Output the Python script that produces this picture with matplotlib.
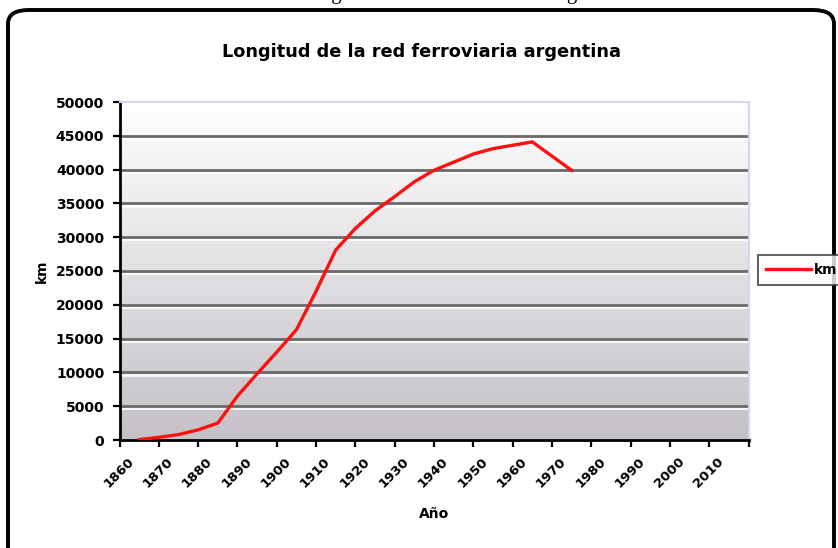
import numpy as np
import matplotlib
matplotlib.use('Agg')
import matplotlib.pyplot as plt
from matplotlib.patches import FancyBboxPatch
from matplotlib.transforms import ScaledTranslation
import matplotlib.patheffects as pe

# longitud de la red (km) cada 5 años
anios = [1865, 1870, 1875, 1880, 1885, 1890, 1895, 1900, 1905, 1910, 1915, 1920,
         1925, 1930, 1935, 1940, 1945, 1950, 1955, 1960, 1965, 1970, 1975]
km = [50, 400, 800, 1500, 2500, 6500, 9800, 13000, 16300, 22000, 28100, 31300,
      33900, 36000, 38200, 39900, 41100, 42300, 43100, 43600, 44100, 42000, 39900]

xticks = list(range(1860, 2021, 10))
xlabels = [str(a) for a in range(1860, 2011, 10)] + ['']
yticks = list(range(0, 50001, 5000))

W, H = 838, 548
fig = plt.figure(figsize=(W / 100, H / 100), dpi=100)
fig.patch.set_facecolor('white')

# marco redondeado del gráfico
marco = FancyBboxPatch((8 / W, -0.1), 826 / W, 0.1 + (H - 10) / H,
                       boxstyle='round,pad=0,rounding_size=0.025',
                       transform=fig.transFigure, facecolor='none',
                       edgecolor='black', linewidth=2.8, zorder=5)
fig.patches.append(marco)

# leyenda del documento, cortada arriba
fig.text(418 / W, 1 + 1 / H, 'Gráfico 1: Longitud de la red ferroviaria argentina',
         family='Liberation Serif', fontsize=15, ha='center', va='baseline')

ax = fig.add_axes([119.5 / W, (H - 440) / H, 629 / W, 338 / H])
ax.set_xlim(1860, 2020)
ax.set_ylim(0, 50000)

# fondo degradado blanco (arriba) -> gris (abajo)
grad = np.linspace(0, 1, 256).reshape(-1, 1)
top = np.array([1.0, 1.0, 1.0])
bot = np.array([0.77, 0.755, 0.78])
img = top + (bot - top) * grad[..., None]
ax.imshow(img, extent=[1860, 2020, 0, 50000], origin='upper', aspect='auto',
          zorder=0, interpolation='bilinear')
ax.set_ylim(0, 50000)

for y in yticks[1:-1]:
    ax.axhline(y, color='#6a6a6a', lw=2.0, zorder=1,
               path_effects=[pe.SimpleLineShadow(offset=(0, -1.6), shadow_color='white', alpha=0.9),
                             pe.Normal()])

ax.plot(anios, km, color='#ff1010', lw=2.4, zorder=3, label='km')

for s in ['top', 'right']:
    ax.spines[s].set_color('#d6d6f4')
    ax.spines[s].set_linewidth(1.5)
for s in ['left', 'bottom']:
    ax.spines[s].set_color('black')
    ax.spines[s].set_linewidth(2.0)

ax.set_xticks(xticks)
ax.set_xticklabels(xlabels, rotation=45, ha='right', va='top',
                   fontsize=9.5, fontweight='bold')
ax.set_yticks(yticks)
ax.set_yticklabels([str(v) for v in yticks], fontsize=10, fontweight='bold')
ax.tick_params(axis='both', direction='out', length=5, width=1.6, color='black')
ax.tick_params(axis='x', pad=6)
ax.tick_params(axis='y', pad=6)

off = ScaledTranslation(17 / 100, 0, fig.dpi_scale_trans)
for lab in ax.get_xticklabels():
    lab.set_transform(lab.get_transform() + off)

ax.set_xlabel('Año', fontsize=10, fontweight='bold', labelpad=12)
ax.set_ylabel('km', fontsize=10, fontweight='bold', labelpad=5)

fig.text(421 / W, 1 - 52 / H, 'Longitud de la red ferroviaria argentina',
         fontsize=12.8, fontweight='bold', ha='center', va='center')

leg = fig.legend(loc='center left', bbox_to_anchor=(758 / W, 1 - 270 / H),
                 frameon=True, fancybox=False,
                 prop={'weight': 'bold', 'size': 10}, handlelength=3.2,
                 handletextpad=0.2, borderpad=0.6, borderaxespad=0)
leg.get_frame().set_edgecolor('#3a3a3a')
leg.get_frame().set_linewidth(1.4)

fig.savefig('out.png', dpi=100)
